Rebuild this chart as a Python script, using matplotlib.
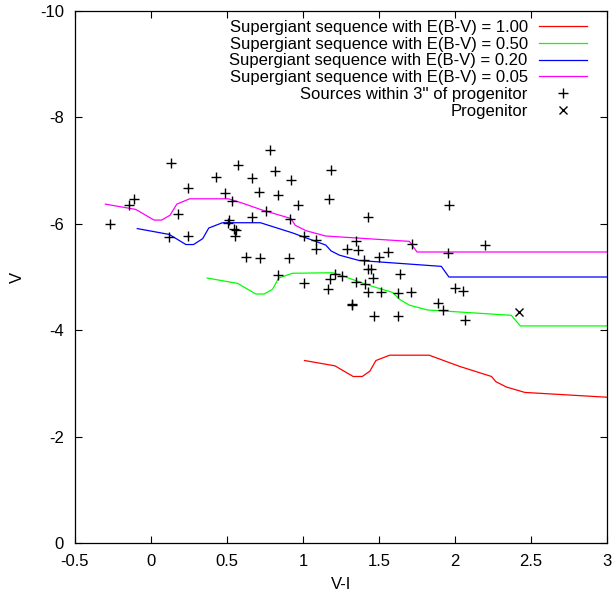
import matplotlib
matplotlib.use("Agg")
import matplotlib.pyplot as plt

plt.rcParams['font.family'] = ['Liberation Sans', 'DejaVu Sans']

# supergiant sequences (V-I, V) for each reddening value
vi_100 = [1.01, 1.21, 1.33, 1.39, 1.44, 1.48, 1.57, 1.83, 2.03, 2.24, 2.27, 2.34, 2.46, 3.0]
v_100 = [-3.43, -3.33, -3.13, -3.13, -3.23, -3.43, -3.53, -3.53, -3.32, -3.13, -3.03, -2.93, -2.83, -2.74]

vi_050 = [0.37, 0.57, 0.69, 0.745, 0.80, 0.84, 0.93, 1.195, 1.26, 1.37, 1.46, 1.59, 1.635, 1.70, 1.82, 2.37, 2.43, 3.0]
v_050 = [-4.98, -4.88, -4.68, -4.68, -4.77, -4.98, -5.07, -5.08, -5.02, -4.91, -4.82, -4.71, -4.58, -4.47, -4.38, -4.28, -4.08, -4.08]

vi_020 = [-0.09, 0.12, 0.23, 0.28, 0.34, 0.38, 0.47, 0.72, 0.93, 1.15, 1.185, 1.24, 1.37, 1.91, 1.96, 3.0]
v_020 = [-5.91, -5.80, -5.61, -5.61, -5.72, -5.92, -6.02, -6.02, -5.83, -5.60, -5.49, -5.41, -5.31, -5.20, -5.00, -5.00]

vi_005 = [-0.30, -0.10, 0.02, 0.07, 0.125, 0.17, 0.255, 0.51, 0.60, 0.73, 0.92, 0.95, 1.02, 1.15, 1.70, 1.75, 3.0]
v_005 = [-6.37, -6.27, -6.07, -6.07, -6.16, -6.37, -6.47, -6.47, -6.39, -6.26, -6.10, -5.97, -5.87, -5.77, -5.67, -5.47, -5.47]

# sources within 3'' of the progenitor
src_vi = [-0.27, -0.145, -0.11, 0.13, 0.175, 0.12, 0.245, 0.245, 0.43, 0.49,
          0.53, 0.57, 0.515, 0.505, 0.545, 0.56, 0.55, 0.665, 0.71, 0.665,
          0.625, 0.72, 0.755, 0.785, 0.815, 0.835, 0.92, 0.915, 0.97, 0.91,
          0.835, 1.005, 1.01, 1.085, 1.085, 1.185, 1.17, 1.21, 1.255, 1.175,
          1.165, 1.35, 1.29, 1.365, 1.40, 1.35, 1.41, 1.425, 1.45, 1.46,
          1.425, 1.51, 1.43, 1.50, 1.56, 1.625, 1.635, 1.71, 1.72, 1.32,
          1.325, 1.47, 1.625, 1.885, 1.92, 1.96, 1.955, 2.00, 2.05, 2.065,
          2.195]
src_v = [-6.00, -6.35, -6.47, -7.14, -6.19, -5.75, -6.67, -5.78, -6.88, -6.58,
         -6.43, -7.11, -6.08, -6.02, -5.91, -5.89, -5.77, -6.87, -6.60, -6.12,
         -5.38, -5.35, -6.25, -7.39, -7.00, -6.55, -6.82, -6.09, -6.35, -5.35,
         -5.03, -4.88, -5.77, -5.69, -5.52, -7.02, -6.47, -5.05, -5.02, -4.97,
         -4.78, -5.68, -5.53, -5.50, -5.32, -4.90, -4.86, -5.15, -5.15, -4.98,
         -4.72, -4.72, -6.12, -5.38, -5.47, -4.70, -5.05, -4.72, -5.62, -4.50,
         -4.47, -4.26, -4.27, -4.51, -4.38, -6.36, -5.45, -4.80, -4.73, -4.20,
         -5.61]

prog_vi = [2.42]
prog_v = [-4.35]

fig = plt.figure(figsize=(6.13, 5.92), dpi=100)
ax = fig.add_axes([0.1223, 0.0828, 0.8679, 0.8986])

ax.plot(vi_100, v_100, color='#ff0000', lw=0.9, label='Supergiant sequence with E(B-V) = 1.00')
ax.plot(vi_050, v_050, color='#00ff00', lw=0.9, label='Supergiant sequence with E(B-V) = 0.50')
ax.plot(vi_020, v_020, color='#0000ff', lw=0.9, label='Supergiant sequence with E(B-V) = 0.20')
ax.plot(vi_005, v_005, color='#ff00ff', lw=0.9, label='Supergiant sequence with E(B-V) = 0.05')
ax.plot(src_vi, src_v, '+', color='black', ms=7, mew=1.0, ls='none',
        label="Sources within 3'' of progenitor")
ax.plot(prog_vi, prog_v, 'x', color='black', ms=6, mew=1.0, ls='none', label='Progenitor')

ax.set_xlim(-0.5, 3)
ax.set_ylim(0, -10)
ax.set_xticks([-0.5, 0, 0.5, 1, 1.5, 2, 2.5, 3])
ax.set_xticklabels(['-0.5', '0', '0.5', '1', '1.5', '2', '2.5', '3'])
ax.set_yticks([0, -2, -4, -6, -8, -10])
ax.set_yticklabels(['0', '-2', '-4', '-6', '-8', '-10'])
ax.tick_params(direction='in', top=True, right=True, length=4.8, width=0.8, labelsize=12, pad=8)
for s in ax.spines.values():
    s.set_linewidth(0.9)
ax.set_xlabel('V-I', fontsize=12, labelpad=6)
ax.set_ylabel('V', fontsize=12, labelpad=11)

leg = ax.legend(loc='upper right', bbox_to_anchor=(0.975, 0.996), markerfirst=False,
                frameon=False, fontsize=12, handlelength=2.9, handletextpad=0.66,
                labelspacing=0.11, borderpad=0.4, borderaxespad=0, numpoints=1)
# right-align the legend texts like gnuplot does
for col in leg._legend_handle_box.get_children():
    col.align = 'right'

fig.savefig('out.png', dpi=100)
